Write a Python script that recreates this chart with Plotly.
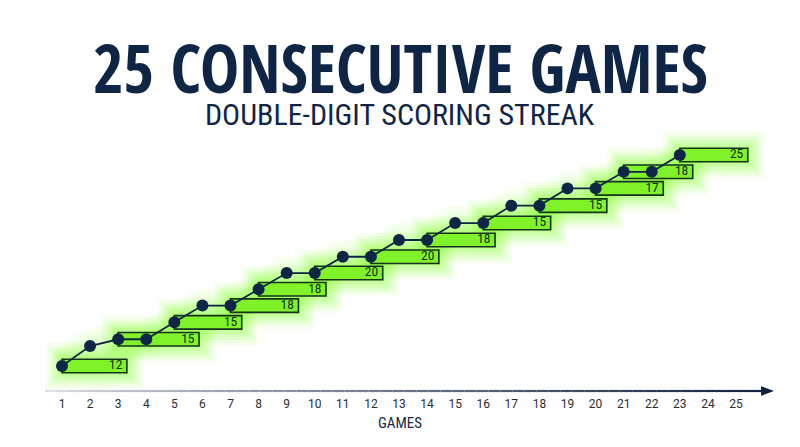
import plotly.graph_objects as go

# ---------------- data ----------------
games = list(range(1, 26))
tick_labels = [str(g) for g in games]

dot_games = list(range(1, 24))
dot_level = [0.0, 1.2, 1.61, 1.61, 2.63, 3.64, 3.64, 4.62, 5.6, 5.6, 6.58, 6.58,
             7.59, 7.59, 8.61, 8.61, 9.66, 9.66, 10.7, 10.7, 11.7, 11.7, 12.71]

bar_games = [1, 3, 5, 7, 8, 10, 12, 14, 16, 18, 20, 21, 23]
bar_points = [12, 15, 15, 18, 18, 20, 20, 18, 15, 15, 17, 18, 25]
bar_span = [2.31, 2.88, 2.4, 2.42, 2.4, 2.42, 2.42, 2.42, 2.4, 2.4, 2.41, 2.46, 2.42]

# ---------------- styling ----------------
# page body has an 8px margin, so the figure is 784x431 placed at (8, 8)
W, H = 784, 431
MARGIN_B = 48
PLOT_H = H - MARGIN_B
PX_X = 28.083                      # pixels per game
G1_X = 54                          # pixel of game 1 inside the figure
X_RANGE = [1 - G1_X / PX_X, 1 + (W - G1_X) / PX_X]
PX_Y = 16.6                        # pixels per level
L0_Y = 358                         # pixel of level 0 inside the figure
Y_RANGE = [-(PLOT_H - L0_Y) / PX_Y, L0_Y / PX_Y]

def px_to_x(p):
    return 1 + (p - G1_X) / PX_X

NAVY = "#0f2546"
GREEN = "#7ff22a"
GLOW = "#84ff2a"
BAR_EDGE = "#15321f"
BAR_H = 13.5 / PX_Y
FONT_TITLE = "Open Sans Condensed, Roboto Condensed, sans-serif"
FONT_NARROW = "Roboto Condensed, Open Sans, sans-serif"

level_of = dict(zip(dot_games, dot_level))
bar_level = [level_of[g] for g in bar_games]

fig = go.Figure()
shapes = []

# soft glow along the line of dots
line_path = "M " + " L ".join(f"{g},{lv}" for g, lv in zip(dot_games, dot_level))
for w, op in [(34, 0.06), (24, 0.07), (14, 0.08)]:
    shapes.append(dict(type="path", xref="x", yref="y", path=line_path,
                       line=dict(color=GLOW, width=w), opacity=op, layer="below"))

# glow behind bars
for pad_px, op in [(17, 0.06), (14, 0.08), (11, 0.1), (8, 0.12), (5, 0.14), (2, 0.16)]:
    px = pad_px / PX_X
    py = pad_px / PX_Y
    for g, lv, sp in zip(bar_games, bar_level, bar_span):
        shapes.append(dict(type="rect", xref="x", yref="y",
                           x0=g - px, x1=g + sp + px,
                           y0=lv - BAR_H / 2 - py, y1=lv + BAR_H / 2 + py,
                           fillcolor=GLOW, opacity=op, line=dict(width=0),
                           layer="below"))

# bars
for g, lv, sp in zip(bar_games, bar_level, bar_span):
    shapes.append(dict(type="rect", xref="x", yref="y",
                       x0=g, x1=g + sp,
                       y0=lv - BAR_H / 2, y1=lv + BAR_H / 2,
                       fillcolor=GREEN, line=dict(color=BAR_EDGE, width=1.6),
                       layer="below"))

# gradient axis line
x_start = px_to_x(37)
x_end = px_to_x(756)
n_seg = 60
c0 = (222, 225, 229)
c1 = (18, 34, 64)
for i in range(n_seg):
    t = (i / (n_seg - 1)) ** 0.8
    col = "rgb(%d,%d,%d)" % tuple(round(a + (b - a) * t) for a, b in zip(c0, c1))
    xa = x_start + (x_end - x_start) * i / n_seg
    xb = x_start + (x_end - x_start) * (i + 1) / n_seg
    shapes.append(dict(type="line", xref="x", yref="paper", x0=xa, x1=xb,
                       y0=0, y1=0, line=dict(color=col, width=2.2)))

# arrowhead
tip = px_to_x(766)
base = px_to_x(753)
half = 4.8 / PLOT_H
shapes.append(dict(type="path", xref="x", yref="paper",
                   path=f"M {base},{half} L {tip},0 L {base},{-half} Z",
                   fillcolor="rgb(18,34,64)", line=dict(width=0)))

# line + dots
fig.add_trace(go.Scatter(x=dot_games, y=dot_level, mode="lines+markers",
                         line=dict(color=NAVY, width=1.8),
                         marker=dict(size=12, color=NAVY),
                         cliponaxis=False, hoverinfo="skip"))

# bar labels
fig.add_trace(go.Scatter(x=[g + sp - 4.5 / PX_X for g, sp in zip(bar_games, bar_span)],
                         y=bar_level, mode="text",
                         text=[str(p) for p in bar_points],
                         textposition="middle left",
                         textfont=dict(family=FONT_NARROW, size=13.5, color="#1a2e22"),
                         cliponaxis=False, hoverinfo="skip"))

fig.update_layout(
    width=W, height=H,
    margin=dict(l=0, r=0, t=0, b=MARGIN_B),
    paper_bgcolor="white", plot_bgcolor="white",
    showlegend=False,
    shapes=shapes,
    xaxis=dict(range=X_RANGE, tickmode="array", tickvals=games, ticktext=tick_labels,
               showgrid=False, zeroline=False, showline=False,
               ticks="outside", ticklen=2, tickcolor="rgba(0,0,0,0)",
               tickfont=dict(family="Roboto, Liberation Sans, sans-serif", size=12, color="#2a2d33"),
               title=dict(text="GAMES", standoff=7,
                          font=dict(family=FONT_NARROW, size=15, color="#1d2a3f"))),
    yaxis=dict(range=Y_RANGE, visible=False),
    annotations=[
        dict(text="<b>25 CONSECUTIVE GAMES</b>", xref="paper", yref="paper",
             x=0.5, y=(PLOT_H - 59) / PLOT_H, xanchor="center", yanchor="middle",
             showarrow=False, font=dict(family=FONT_TITLE, size=66, color=NAVY)),
        dict(text="DOUBLE-DIGIT SCORING STREAK", xref="paper", yref="paper",
             x=0.5, y=(PLOT_H - 107) / PLOT_H, xanchor="center", yanchor="middle",
             showarrow=False, font=dict(family=FONT_NARROW, size=30, color=NAVY)),
    ],
)

fig.write_html("out.html")
